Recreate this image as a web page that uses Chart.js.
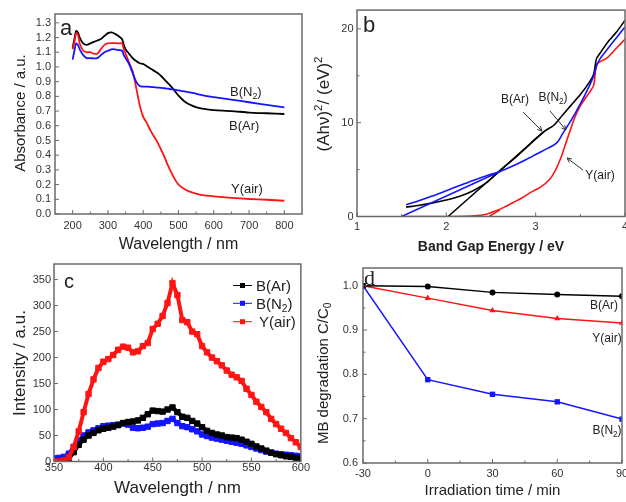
<!DOCTYPE html>
<html lang="en">
<head>
  <meta charset="UTF-8">
  <title>Absorbance, band gap, PL and MB degradation</title>
  <script src="https://cdn.jsdelivr.net/npm/chart.js"></script>
  <style>
    body { margin: 0; background: #fff; }
    #fig { position: relative; width: 626px; height: 502px; overflow: hidden; background: #fff; }
    #fig canvas { position: absolute; }
  </style>
</head>
<body>
<div id="fig">
  <canvas id="chartA" width="310" height="256" style="left:0;top:0"></canvas>
  <canvas id="chartB" width="330" height="256" style="left:310px;top:0"></canvas>
  <canvas id="chartC" width="310" height="252" style="left:0;top:250px"></canvas>
  <canvas id="chartD" width="330" height="252" style="left:310px;top:250px"></canvas>
</div>

<script>
  // ---- panel a : absorbance spectra ----
  const wavelengthA = [200, 205, 210, 215, 220, 230, 240, 250, 260, 270, 280, 290, 300, 310, 320, 330, 340, 345, 350, 360, 370, 380, 390, 400, 410, 420, 430, 440, 450, 460, 470, 480, 490, 500, 520, 540, 560, 580, 600, 650, 700, 750, 800];
  const absAr  = [1.13, 1.19, 1.245, 1.235, 1.20, 1.16, 1.15, 1.16, 1.17, 1.18, 1.19, 1.21, 1.23, 1.235, 1.225, 1.21, 1.19, 1.15, 1.12, 1.09, 1.06, 1.04, 1.025, 1.02, 1.005, 0.99, 0.975, 0.96, 0.94, 0.915, 0.89, 0.865, 0.835, 0.805, 0.76, 0.735, 0.72, 0.712, 0.706, 0.70, 0.69, 0.685, 0.68];
  const absN2  = [1.05, 1.11, 1.16, 1.15, 1.12, 1.08, 1.06, 1.06, 1.058, 1.06, 1.08, 1.10, 1.11, 1.12, 1.12, 1.115, 1.11, 1.08, 1.06, 1.02, 0.96, 0.90, 0.87, 0.866, 0.866, 0.865, 0.863, 0.86, 0.858, 0.855, 0.852, 0.848, 0.845, 0.84, 0.832, 0.823, 0.812, 0.802, 0.795, 0.778, 0.76, 0.742, 0.725];
  const absAir = [1.12, 1.17, 1.23, 1.22, 1.16, 1.11, 1.10, 1.10, 1.09, 1.09, 1.12, 1.15, 1.16, 1.162, 1.162, 1.16, 1.16, 1.12, 1.09, 1.03, 0.97, 0.86, 0.74, 0.66, 0.62, 0.57, 0.53, 0.49, 0.44, 0.39, 0.33, 0.28, 0.235, 0.20, 0.165, 0.145, 0.132, 0.125, 0.12, 0.11, 0.102, 0.097, 0.09];
  const xTicksA = [200, 300, 400, 500, 600, 700, 800];
  const yTicksA = [0, 0.1, 0.2, 0.3, 0.4, 0.5, 0.6, 0.7, 0.8, 0.9, 1.0, 1.1, 1.2, 1.3];

  // ---- panel b : Tauc plot ----
  const energyAr  = [1.55, 1.7, 1.85, 2.0, 2.15, 2.3, 2.45, 2.6, 2.75, 2.9, 3.0, 3.1, 3.2, 3.3, 3.4, 3.5, 3.6, 3.65, 3.68, 3.72, 3.8, 3.9, 4.0];
  const taucAr    = [1.0, 1.2, 1.45, 1.75, 2.15, 2.75, 3.6, 4.9, 6.1, 7.4, 8.3, 9.1, 9.7, 10.8, 11.9, 13.0, 14.3, 15.2, 16.8, 17.4, 18.5, 19.6, 20.9];
  const energyN2  = [1.55, 1.7, 1.85, 2.0, 2.15, 2.3, 2.45, 2.6, 2.75, 2.9, 3.0, 3.1, 3.2, 3.25, 3.3, 3.4, 3.5, 3.6, 3.65, 3.68, 3.72, 3.8, 3.9, 4.0];
  const taucN2    = [1.25, 1.7, 2.2, 2.75, 3.3, 3.85, 4.35, 4.8, 5.4, 6.1, 6.6, 7.1, 7.6, 8.0, 8.8, 10.3, 12.0, 13.9, 15.0, 16.0, 16.8, 17.8, 19.0, 20.2];
  const energyAir = [1.55, 1.8, 2.0, 2.2, 2.35, 2.45, 2.55, 2.65, 2.75, 2.85, 2.95, 3.05, 3.15, 3.22, 3.28, 3.33, 3.38, 3.44, 3.5, 3.6, 3.65, 3.68, 3.72, 3.8, 3.9, 4.0];
  const taucAir   = [0, 0, 0, 0.02, 0.1, 0.25, 0.6, 1.0, 1.5, 2.0, 2.6, 3.1, 3.9, 4.9, 6.2, 7.6, 9.0, 10.6, 11.8, 13.2, 14.0, 16.2, 16.5, 16.9, 17.9, 18.9];
  const fitArE  = [2.02, 3.1], fitArY  = [0, 9.1];
  const fitN2E  = [1.5, 2.6],  fitN2Y  = [0, 4.8];
  const fitAirE = [2.48, 2.6], fitAirY = [0, 0.7];
  const xTicksB = [1, 2, 3, 4];
  const yTicksB = [0, 10, 20];

  // ---- panel c : photoluminescence ----
  const wavelengthC = [350, 355, 360, 365, 370, 375, 380, 385, 390, 395, 400, 405, 410, 415, 420, 425, 430, 435, 440, 445, 450, 455, 460, 465, 470, 475, 480, 485, 490, 495, 500, 505, 510, 515, 520, 525, 530, 535, 540, 545, 550, 555, 560, 565, 570, 575, 580, 585, 590, 595, 600];
  const plAr  = [0, 0, 1, 5, 18, 32, 42, 50, 55, 60, 63, 65, 67, 70, 74, 76, 77, 79, 84, 91, 98, 97, 96, 100, 104, 95, 86, 84, 78, 73, 66, 59, 55, 52, 50, 47, 46, 45, 42, 38, 34, 29, 25, 21, 17, 14, 12, 10, 9, 7, 6];
  const plN2  = [6, 7, 9, 15, 28, 40, 50, 56, 60, 64, 68, 69, 70, 71, 73, 71, 65, 64, 65, 67, 72, 73, 74, 78, 82, 74, 68, 66, 62, 58, 52, 49, 46, 44, 42, 40, 38, 36, 34, 31, 28, 25, 22, 19, 17, 15, 14, 13, 12, 11, 10];
  const plAir = [0, 0, 2, 8, 28, 58, 95, 130, 158, 180, 192, 197, 205, 215, 221, 219, 210, 212, 222, 228, 255, 265, 280, 305, 343, 320, 272, 268, 250, 245, 222, 210, 200, 193, 185, 175, 167, 162, 155, 140, 128, 115, 105, 95, 82, 72, 63, 55, 45, 37, 28];
  const xTicksC = [350, 400, 450, 500, 550, 600];
  const yTicksC = [0, 50, 100, 150, 200, 250, 300, 350];

  // ---- panel d : MB degradation ----
  const timeD = [-30, 0, 30, 60, 90];
  const mbAr  = [1.0, 0.998, 0.985, 0.980, 0.976];
  const mbAir = [1.0, 0.972, 0.944, 0.926, 0.916];
  const mbN2  = [1.0, 0.788, 0.755, 0.738, 0.699];
  const xTicksD = [-30, 0, 30, 60, 90];
  const yTicksD = [0.6, 0.7, 0.8, 0.9, 1.0];

  const FONT = "Arial, 'Liberation Sans', sans-serif";
  const TEXT = '#222', TICK = '#333', FRAME = '#6a6a6a';
  const BLACK = '#000000', BLUE = '#1414ff', RED = '#ff1414';
  Chart.defaults.font.family = FONT;
  Chart.defaults.color = TICK;

  const pts = (xs, ys) => xs.map((x, i) => ({ x: x, y: ys[i] }));

  function axis(min, max, step, majors, pad, fmt) {
    return {
      type: 'linear', min: min, max: max,
      grid: { display: false, drawTicks: false },
      border: { display: false },
      ticks: {
        stepSize: step, autoSkip: false, maxRotation: 0, includeBounds: false,
        padding: pad, color: TICK, font: { size: 11 },
        callback: v => {
          if (v < majors[0] - 1e-9 || v > majors[majors.length - 1] + 1e-9) return null;
          const m = majors.find(t => Math.abs(t - v) < 1e-9);
          return m === undefined ? '' : fmt(m);
        }
      }
    };
  }

  // draws text with _sub / ^sup pieces
  function txt(ctx, parts, x, y, size, opt) {
    opt = opt || {};
    const w8 = opt.bold ? 'bold ' : '';
    const fam = opt.family || FONT;
    const f = k => w8 + (k ? size * 0.68 : size) + 'px ' + fam;
    const segs = parts.map(p => {
      const k = p[0] === '_' ? 'sub' : p[0] === '^' ? 'sup' : '';
      return [k ? p.slice(1) : p, k];
    });
    ctx.save();
    ctx.translate(x, y);
    if (opt.rot) ctx.rotate(opt.rot);
    ctx.fillStyle = opt.color || TEXT;
    ctx.textBaseline = 'alphabetic';
    ctx.textAlign = 'left';
    let w = 0;
    segs.forEach(s => { ctx.font = f(s[1]); w += ctx.measureText(s[0]).width; });
    let cx = opt.align === 'center' ? -w / 2 : 0;
    segs.forEach(s => {
      ctx.font = f(s[1]);
      const dy = s[1] === 'sub' ? size * 0.22 : s[1] === 'sup' ? -size * 0.42 : 0;
      ctx.fillText(s[0], cx, dy);
      cx += ctx.measureText(s[0]).width;
    });
    ctx.restore();
  }

  function arrow(ctx, x1, y1, x2, y2) {
    const a = Math.atan2(y2 - y1, x2 - x1), h = 5;
    ctx.save();
    ctx.strokeStyle = '#333';
    ctx.lineWidth = 1;
    ctx.beginPath();
    ctx.moveTo(x1, y1); ctx.lineTo(x2, y2);
    ctx.moveTo(x2 - h * Math.cos(a - 0.45), y2 - h * Math.sin(a - 0.45));
    ctx.lineTo(x2, y2);
    ctx.lineTo(x2 - h * Math.cos(a + 0.45), y2 - h * Math.sin(a + 0.45));
    ctx.stroke();
    ctx.restore();
  }

  // box around the plot plus inward ticks (minor ones shorter)
  const frameTicks = {
    id: 'frameTicks',
    afterDraw(chart) {
      const { ctx, chartArea: a, scales: { x, y } } = chart;
      ctx.save();
      ctx.strokeStyle = FRAME;
      ctx.lineWidth = 1;
      ctx.beginPath();
      x.ticks.forEach(t => {
        if (t.label === null || t.label === undefined) return;
        const p = x.getPixelForValue(t.value);
        ctx.moveTo(p, a.bottom); ctx.lineTo(p, a.bottom - (t.label === '' ? 2.5 : 4));
      });
      y.ticks.forEach(t => {
        if (t.label === null || t.label === undefined) return;
        const p = y.getPixelForValue(t.value);
        ctx.moveTo(a.left, p); ctx.lineTo(a.left + (t.label === '' ? 2.5 : 4), p);
      });
      ctx.stroke();
      ctx.lineWidth = 1.5;
      ctx.strokeRect(a.left, a.top, a.right - a.left, a.bottom - a.top);
      ctx.restore();
    }
  };

  function panel(id, datasets, xAx, yAx, top, right, yWidth, xHeight, draw) {
    xAx.afterFit = s => { s.height = xHeight; };
    yAx.afterFit = s => { s.width = yWidth; };
    return new Chart(document.getElementById(id), {
      type: 'line',
      data: { datasets: datasets },
      options: {
        responsive: false,
        animation: false,
        events: [],
        layout: { padding: { top: top, right: right, left: 0, bottom: 0 } },
        plugins: { legend: { display: false }, tooltip: { enabled: false } },
        scales: { x: xAx, y: yAx }
      },
      plugins: [frameTicks, { id: 'deco', afterDraw: c => draw(c.ctx) }]
    });
  }

  const curve = (data, color, w) => ({
    data: data, borderColor: color, borderWidth: w, pointRadius: 0, tension: 0.25, fill: false
  });

  // ---------- a ----------
  panel('chartA',
    [
      curve(pts(wavelengthA, absN2), BLUE, 1.8),
      curve(pts(wavelengthA, absAir), RED, 1.8),
      curve(pts(wavelengthA, absAr), BLACK, 1.8)
    ],
    axis(150, 850, 50, xTicksA, 5, v => String(v)),
    axis(0, 1.36, 0.1, yTicksA, 4, v => v.toFixed(1)),
    14, 8, 55, 42,
    ctx => {
      txt(ctx, ['a'], 60, 35, 22);
      txt(ctx, ['B(N', '_2', ')'], 230, 96, 13);
      txt(ctx, ['B(Ar)'], 229, 130, 13);
      txt(ctx, ['Y(air)'], 231, 192.5, 13);
      txt(ctx, ['Wavelength / nm'], 178.5, 249, 16, { align: 'center' });
      txt(ctx, ['Absorbance / a.u.'], 24.5, 113, 15, { align: 'center', rot: -Math.PI / 2 });
    });

  // ---------- b ----------
  const straight = (data, color) => ({
    data: data, borderColor: color, borderWidth: 1.5, pointRadius: 0, tension: 0, fill: false
  });
  panel('chartB',
    [
      curve(pts(energyN2, taucN2), BLUE, 1.6),
      straight(pts(fitN2E, fitN2Y), BLUE),
      curve(pts(energyAr, taucAr), BLACK, 1.6),
      straight(pts(fitArE, fitArY), BLACK),
      curve(pts(energyAir, taucAir), RED, 1.6),
      straight(pts(fitAirE, fitAirY), RED)
    ],
    axis(1, 4, 0.5, xTicksB, 4, v => String(v)),
    axis(0, 22, 5, yTicksB, 3.5, v => String(v)),
    9, 15, 47, 39.5,
    ctx => {
      txt(ctx, ['b'], 53, 32, 22);
      txt(ctx, ['B(Ar)'], 205, 103.3, 12, { align: 'center' });
      txt(ctx, ['B(N', '_2', ')'], 243, 101, 12, { align: 'center' });
      txt(ctx, ['Y(air)'], 290, 179, 12, { align: 'center' });
      arrow(ctx, 213, 112, 232, 131);
      arrow(ctx, 240, 111, 256, 130);
      arrow(ctx, 273, 170, 257, 158);
      txt(ctx, ['Band Gap Energy / eV'], 181, 250.5, 14, { align: 'center', bold: true });
      txt(ctx, ['(Ah\u03BD)', '^2', '/ (eV)', '^2'], 19, 104, 17, { align: 'center', rot: -Math.PI / 2 });
    });

  // ---------- c ----------
  const squares = (data, color) => ({
    data: data, borderColor: color, borderWidth: 4, backgroundColor: color,
    pointStyle: 'rect', pointRadius: 3.8, pointBorderWidth: 1,
    pointBackgroundColor: color, pointBorderColor: color, tension: 0, fill: false
  });
  panel('chartC',
    [
      squares(pts(wavelengthC, plAir), RED),
      squares(pts(wavelengthC, plAr), BLACK),
      squares(pts(wavelengthC, plN2), BLUE)
    ],
    axis(350, 600, 25, xTicksC, 0, v => String(v)),
    axis(0, 380, 50, yTicksC, 3, v => String(v)),
    14, 9, 54, 40.5,
    ctx => {
      txt(ctx, ['c'], 64, 38.3, 20);
      const rows = [[['B(Ar)'], BLACK, 35.5, 256], [['B(N', '_2', ')'], BLUE, 53.3, 256], [['Y(air)'], RED, 71.7, 259]];
      rows.forEach(r => {
        ctx.save();
        ctx.strokeStyle = r[1]; ctx.fillStyle = r[1]; ctx.lineWidth = 1;
        ctx.beginPath(); ctx.moveTo(233, r[2]); ctx.lineTo(252, r[2]); ctx.stroke();
        ctx.fillRect(240, r[2] - 2.5, 5, 5);
        ctx.restore();
        txt(ctx, r[0], r[3], r[2] + 5.4, 15);
      });
      txt(ctx, ['Wavelength / nm'], 177.5, 243, 17, { align: 'center' });
      txt(ctx, ['Intensity / a.u.'], 24.5, 113, 17, { align: 'center', rot: -Math.PI / 2 });
    });

  // ---------- d ----------
  const marked = (data, color, style, r) => ({
    data: data, borderColor: color, borderWidth: 1.5, backgroundColor: color,
    pointStyle: style, pointRadius: r, pointBorderWidth: 0,
    pointBackgroundColor: color, tension: 0, fill: false
  });
  panel('chartD',
    [
      marked(pts(timeD, mbAr), BLACK, 'circle', 3),
      marked(pts(timeD, mbAir), RED, 'triangle', 3.6),
      marked(pts(timeD, mbN2), BLUE, 'rect', 3.8)
    ],
    axis(-30, 90, 15, xTicksD, 4.5, v => String(v)),
    axis(0.6, 1.04, 0.05, yTicksD, 5, v => v.toFixed(1)),
    18, 18, 53, 39,
    ctx => {
      txt(ctx, ['d'], 54, 35, 22, { family: "'Liberation Serif', 'Times New Roman', serif" });
      txt(ctx, ['B(Ar)'], 294, 59, 12, { align: 'center' });
      txt(ctx, ['Y(air)'], 297, 91.6, 12, { align: 'center' });
      txt(ctx, ['B(N', '_2', ')'], 297, 184.3, 12, { align: 'center' });
      txt(ctx, ['Irradiation time / min'], 182.5, 244.8, 15, { align: 'center' });
      txt(ctx, ['MB degradation C/C', '_0'], 18, 123.3, 15, { align: 'center', rot: -Math.PI / 2 });
    });
</script>
</body>
</html>
